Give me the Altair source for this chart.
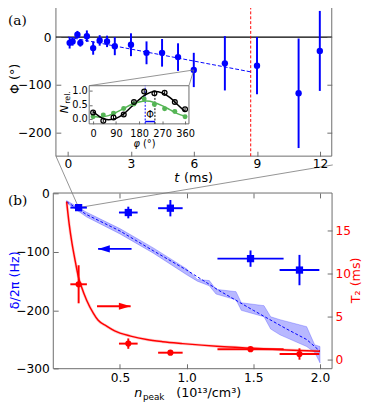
import altair as alt
import pandas as pd

# ---------------- data: panel (a) ----------------
t_ms = [0.08, 0.22, 0.45, 0.59, 0.90, 1.20, 1.51, 1.86, 2.23, 3.00, 3.74, 4.48, 5.24, 5.99, 7.47, 9.00, 10.98, 11.99]
phi_deg = [-12, -9, 5, -12, 2, -23, -7, -9, -19, -16, -33, -33, -42, -69, -55, -60, -118, -29]
phi_err = [12, 9, 8, 8, 12, 14, 11, 12, 19, 24, 24, 29, 29, 36, 57, 60, 115, 84]
fit_t = [0.0, 8.7]
fit_phi = [0.0, -73.0]
t_cut = 8.7
a_xticks = [0, 3, 6, 9, 12]
a_yticks = [-200, -100, 0]

# ---------------- data: inset ----------------
phi_in = [0, 40, 80, 120, 160, 200, 240, 280, 320, 360]
n_black = [0.23, -0.06, 0.05, 0.16, 0.60, 0.97, 0.91, 0.92, 0.60, 0.34]
n_black_err = [0.06, 0.06, 0.06, 0.06, 0.06, 0.06, 0.06, 0.06, 0.06, 0.06]
n_green = [0.08, 0.14, 0.20, 0.37, 0.53, 0.70, 0.51, 0.36, 0.26, 0.08]
phi_curve = [0, 30, 60, 90, 120, 150, 180, 210, 240, 270, 300, 330, 360]
black_fit = [0.26, 0.06, -0.03, 0.02, 0.18, 0.43, 0.68, 0.88, 0.97, 0.92, 0.76, 0.51, 0.26]
green_fit = [0.10, 0.07, 0.12, 0.23, 0.37, 0.51, 0.60, 0.63, 0.58, 0.47, 0.33, 0.19, 0.10]
phi_mark_green = 204
phi_mark_black = 242
i_xticks = [0, 90, 180, 270, 360]
i_yticks = [0.0, 0.5, 1.0]

# ---------------- data: panel (b) ----------------
n_peak = [0.19, 0.5625, 0.878, 1.479, 1.846]
n_err = [0.062, 0.07, 0.092, 0.248, 0.149]
delta_hz = [-24, -32.4, -25, -111.4, -131]
delta_err = [4, 10, 14, 14, 26]
t2_ms = [8.74, 1.88, 0.83, 1.24, 0.68]
t2_err = [2.2, 0.6, 0.15, 0.2, 0.66]

n_line = [0.10, 0.25, 0.50, 0.75, 1.00, 1.25, 1.50, 1.75, 1.90, 2.00]
d_line = [-14, -36, -64, -98, -131, -167, -200, -232, -250, -270]
n_band = [0.10, 0.25, 0.50, 0.75, 1.00, 1.08, 1.17, 1.22, 1.37, 1.41, 1.58, 1.63, 1.70, 1.90, 1.96, 2.00]
band_hi = [-12, -32, -60, -93, -129, -147, -149, -164, -168, -187, -192, -211, -216, -228, -259, -262]
band_lo = [-16, -40, -69, -102, -139, -150, -158, -172, -182, -200, -211, -232, -242, -262, -272, -290]
n_t2fit = [0.10, 0.12, 0.14, 0.16, 0.188, 0.21, 0.25, 0.30, 0.335, 0.40, 0.46, 0.58, 0.70, 0.82, 0.97, 1.25, 1.50, 1.75, 2.00]
t2_fit = [18.3, 15.6, 13.5, 11.8, 9.6, 8.5, 6.9, 5.4, 4.6, 3.9, 3.35, 2.75, 2.35, 2.1, 1.88, 1.55, 1.35, 1.15, 1.0]
b_xticks = [0.5, 1.0, 1.5, 2.0]
b_yticks = [-300, -200, -100, 0]
b_t2ticks = [0, 5, 10, 15]

# ---------------- layout (chart pixel coordinates) ----------------
W, H = 366, 399
FONT = "DejaVu Sans"
FRAME = "#6a6a6a"
BLUE = "#0000ff"
RED = "#ff0000"
GREEN = "#55b555"
LFS = 12.5

def P(v):  # page pixel -> chart pixel
    return v - 8

xa_dom = [-0.5728, 12.559]; xa_rng = [P(57), P(339)]
ya_dom = [-250.0, 68.4];    ya_rng = [P(155), P(0)]
xi_dom = [-15.3, 375.3];    xi_rng = [P(91), P(193)]
yi_dom = [-0.172, 1.172];   yi_rng = [P(122), P(83)]
xb_dom = [0.0, 2.0904];     xb_rng = [P(54.3), P(339.3)]
yb_dom = [-300.0, 1.0];     yb_rng = [P(372.3), P(192.7)]
yt_dom = [-1.02, 19.29];    yt_rng = [P(372.3), P(192.7)]

def sc(dom, rng):
    return alt.Scale(domain=dom, range=rng, zero=False, nice=False)

SXA, SYA = sc(xa_dom, xa_rng), sc(ya_dom, ya_rng)
SXI, SYI = sc(xi_dom, xi_rng), sc(yi_dom, yi_rng)
SXB, SYB, SYT = sc(xb_dom, xb_rng), sc(yb_dom, yb_rng), sc(yt_dom, yt_rng)

def X(f, s, axis=None):
    return alt.X(f, type="quantitative", scale=s, axis=axis)

def Y(f, s, axis=None):
    return alt.Y(f, type="quantitative", scale=s, axis=axis)

def ax_lab(orient, pos, values, fmt, pad, size=LFS, color="black"):
    off = {"bottom": pos - H, "top": -pos, "left": -pos, "right": pos - W}[orient]
    return alt.Axis(orient=orient, offset=off, values=values, format=fmt, tickSize=0,
                    domain=False, grid=False, labelPadding=pad, labelFont=FONT,
                    labelFontSize=size, labelColor=color, title=None,
                    labelFlush=False, labelOverlap=False, zindex=2)

def ax_tick(orient, pos, values, L=5):
    off = {"bottom": (pos - L) - H, "top": -(pos + L), "left": -(pos + L),
           "right": (pos - L) - W}[orient]
    return alt.Axis(orient=orient, offset=off, values=values, tickSize=L, labels=False,
                    domain=False, grid=False, title=None, tickColor=FRAME, tickWidth=1,
                    zindex=2)

def txt(s, x, y, size=13, color="black", angle=0, align="center", baseline="middle",
        style="normal", font=FONT):
    return alt.Chart(pd.DataFrame({"k": [0]})).mark_text(
        text=s, font=font, fontSize=size, fontStyle=style, color=color, angle=angle,
        align=align, baseline=baseline).encode(x=alt.value(P(x)), y=alt.value(P(y)))

def frame(xd, yd, sx, sy, fill=None):
    d = pd.DataFrame({"x0": [xd[0]], "x1": [xd[1]], "y0": [yd[0]], "y1": [yd[1]]})
    if fill:
        m = alt.Chart(d).mark_rect(fill=fill, stroke=FRAME, strokeWidth=1)
    else:
        m = alt.Chart(d).mark_rect(fill="white", fillOpacity=0, stroke=FRAME, strokeWidth=1)
    return m.encode(x=X("x0", sx), x2="x1", y=Y("y0", sy), y2="y1")

layers = []

# ================= panel (a) =================
da = pd.DataFrame({"t": t_ms, "phi": phi_deg, "e": phi_err})
da["lo"] = da["phi"] - da["e"]
da["hi"] = da["phi"] + da["e"]

layers.append(frame(xa_dom, ya_dom, SXA, SYA))
layers.append(alt.Chart(pd.DataFrame({"x0": [xa_dom[0]], "x1": [xa_dom[1]], "z": [0]}))
              .mark_rule(color="black", strokeWidth=1.3)
              .encode(x=X("x0", SXA), x2="x1", y=Y("z", SYA)))
layers.append(alt.Chart(pd.DataFrame({"t": [t_cut], "y0": [ya_dom[0]], "y1": [ya_dom[1]]}))
              .mark_rule(color=RED, strokeWidth=1, strokeDash=[3, 2])
              .encode(x=X("t", SXA), y=Y("y0", SYA), y2="y1"))
layers.append(alt.Chart(pd.DataFrame({"t": fit_t, "phi": fit_phi}))
              .mark_line(color=BLUE, strokeWidth=1, strokeDash=[4, 2])
              .encode(x=X("t", SXA), y=Y("phi", SYA, ax_tick("right", P(339), a_yticks))))
layers.append(alt.Chart(da).mark_rule(color=BLUE, strokeWidth=2)
              .encode(x=X("t", SXA, ax_lab("bottom", P(155), a_xticks, "d", 2)),
                      y=Y("lo", SYA, ax_lab("left", P(57), a_yticks, "d", 5)), y2="hi"))
layers.append(alt.Chart(da).mark_point(filled=True, shape="circle", size=42, color=BLUE, opacity=1)
              .encode(x=X("t", SXA, ax_tick("bottom", P(155), a_xticks)),
                      y=Y("phi", SYA, ax_tick("left", P(57), a_yticks))))

# inset connector lines (panel (a) coordinates)
conn_a = pd.DataFrame({"seg": [0, 0, 1, 1], "t": [1.01, 5.99, 5.76, 5.99],
                       "phi": [-102, -69, -102, -69]})
layers.append(alt.Chart(conn_a).mark_line(color="#777777", strokeWidth=0.8)
              .encode(x=X("t", SXA), y=Y("phi", SYA), detail="seg:N"))

# ================= inset =================
di = pd.DataFrame({"p": phi_in, "b": n_black, "be": n_black_err, "g": n_green})
di["lo"] = di["b"] - di["be"]
di["hi"] = di["b"] + di["be"]
dcurve = pd.DataFrame({"p": phi_curve, "b": black_fit, "g": green_fit})

layers.append(frame(xi_dom, yi_dom, SXI, SYI, fill="white")
              .encode(x=X("x0", SXI, ax_lab("bottom", P(122), i_xticks, "d", 5, size=10)),
                      y=Y("y0", SYI, ax_lab("left", P(91), i_yticks, ".1f", 2, size=10))))
layers.append(alt.Chart(pd.DataFrame({"p": [phi_mark_green], "y0": [yi_dom[0]], "y1": [yi_dom[1]]}))
              .mark_rule(color=BLUE, strokeWidth=1, strokeDash=[2, 1.5])
              .encode(x=X("p", SXI), y=Y("y0", SYI), y2="y1"))
layers.append(alt.Chart(pd.DataFrame({"p": [phi_mark_black], "y0": [yi_dom[0]], "y1": [0.91]}))
              .mark_rule(color="black", strokeWidth=1, strokeDash=[2, 1.5])
              .encode(x=X("p", SXI), y=Y("y0", SYI), y2="y1"))
layers.append(alt.Chart(pd.DataFrame({"p0": [phi_mark_green], "p1": [phi_mark_black], "y": [-0.09]}))
              .mark_rule(color=BLUE, strokeWidth=1.5)
              .encode(x=X("p0", SXI), x2="p1", y=Y("y", SYI)))
layers.append(alt.Chart(dcurve).mark_line(color=GREEN, strokeWidth=1.5, interpolate="monotone")
              .encode(x=X("p", SXI), y=Y("g", SYI)))
layers.append(alt.Chart(dcurve).mark_line(color="black", strokeWidth=1.5, interpolate="monotone")
              .encode(x=X("p", SXI, ax_tick("bottom", P(122), i_xticks, L=3)),
                      y=Y("b", SYI, ax_tick("left", P(91), i_yticks, L=3))))
layers.append(alt.Chart(di).mark_point(filled=True, shape="circle", size=26, color=GREEN, opacity=1)
              .encode(x=X("p", SXI), y=Y("g", SYI)))
layers.append(alt.Chart(di).mark_rule(color="black", strokeWidth=1)
              .encode(x=X("p", SXI), y=Y("lo", SYI), y2="hi"))
layers.append(alt.Chart(di).mark_point(filled=False, shape="circle", size=24, color="black",
                                      strokeWidth=1.3, opacity=1)
              .encode(x=X("p", SXI), y=Y("b", SYI)))
layers.append(alt.Chart(pd.DataFrame({"p": [(phi_mark_green + phi_mark_black) / 2], "y": [0.15]}))
              .mark_text(text="Φ", font=FONT, fontSize=10, color="black")
              .encode(x=X("p", SXI), y=Y("y", SYI)))

# ================= panel (b) =================
db = pd.DataFrame({"n": n_peak, "ne": n_err, "d": delta_hz, "de": delta_err,
                   "t2": t2_ms, "te": t2_err})
db["nlo"] = db["n"] - db["ne"]
db["nhi"] = db["n"] + db["ne"]
db["dlo"] = db["d"] - db["de"]
db["dhi"] = db["d"] + db["de"]
db["tlo"] = db["t2"] - db["te"]
db["thi"] = db["t2"] + db["te"]
dband = pd.DataFrame({"n": n_band, "hi": band_hi, "lo": band_lo})
dline = pd.DataFrame({"n": n_line, "d": d_line})
dt2 = pd.DataFrame({"n": n_t2fit, "t": t2_fit})

layers.append(frame(xb_dom, yb_dom, SXB, SYB))
layers.append(alt.Chart(dband).mark_area(color=BLUE, fillOpacity=0.28, stroke=BLUE,
                                        strokeOpacity=0.3, strokeWidth=0.8)
              .encode(x=X("n", SXB, ax_lab("bottom", P(372.3), b_xticks, ".1f", 3)),
                      y=Y("hi", SYB, ax_lab("left", P(54.3), b_yticks, "d", 4)), y2="lo"))
layers.append(alt.Chart(dline).mark_line(color=BLUE, strokeWidth=1, strokeDash=[3, 2])
              .encode(x=X("n", SXB, ax_tick("bottom", P(372.3), b_xticks)),
                      y=Y("d", SYB, ax_tick("left", P(54.3), b_yticks))))
layers.append(alt.Chart(dt2).mark_line(color=RED, strokeWidth=3, opacity=0.2, interpolate="monotone")
              .encode(x=X("n", SXB), y=Y("t", SYT)))
layers.append(alt.Chart(dt2).mark_line(color=RED, strokeWidth=1.5, interpolate="monotone")
              .encode(x=X("n", SXB, ax_tick("top", P(192.7), b_xticks)),
                      y=Y("t", SYT, ax_tick("right", P(339.3), b_t2ticks))))

# connector lines from panel (a) to first (b) point
conn_b = pd.DataFrame({"seg": [0, 0, 1, 1], "n": [0.0198, n_peak[0], 2.0956, n_peak[0]],
                       "d": [64.2, delta_hz[0], 49.1, delta_hz[0]]})
layers.append(alt.Chart(conn_b).mark_line(color="#777777", strokeWidth=0.8)
              .encode(x=X("n", SXB), y=Y("d", SYB), detail="seg:N"))

# red T2 points
layers.append(alt.Chart(db).mark_rule(color=RED, strokeWidth=2)
              .encode(x=X("nlo", SXB), x2="nhi", y=Y("t2", SYT)))
layers.append(alt.Chart(db).mark_rule(color=RED, strokeWidth=2)
              .encode(x=X("n", SXB), y=Y("tlo", SYT), y2="thi"))
layers.append(alt.Chart(db).mark_point(filled=True, shape="circle", size=40, color=RED, opacity=1)
              .encode(x=X("n", SXB),
                      y=Y("t2", SYT, ax_lab("right", P(339.3), b_t2ticks, "d", 3, color=RED))))
# blue delta points
layers.append(alt.Chart(db).mark_rule(color=BLUE, strokeWidth=2)
              .encode(x=X("nlo", SXB), x2="nhi", y=Y("d", SYB)))
layers.append(alt.Chart(db).mark_rule(color=BLUE, strokeWidth=2)
              .encode(x=X("n", SXB), y=Y("dlo", SYB), y2="dhi"))
layers.append(alt.Chart(db).mark_point(filled=True, shape="square", size=55, color=BLUE, opacity=1)
              .encode(x=X("n", SXB), y=Y("d", SYB)))

# arrows
arrow_left = "M -1 0 L 1 -0.6 L 1 0.6 Z"
arrow_right = "M 1 0 L -1 -0.6 L -1 0.6 Z"
layers.append(alt.Chart(pd.DataFrame({"n0": [0.336], "n1": [0.587], "d": [-94.7]}))
              .mark_rule(color=BLUE, strokeWidth=2)
              .encode(x=X("n0", SXB), x2="n1", y=Y("d", SYB)))
layers.append(alt.Chart(pd.DataFrame({"n": [0.336], "d": [-94.7]}))
              .mark_point(shape=arrow_left, filled=True, size=144, color=BLUE, opacity=1, xOffset=6)
              .encode(x=X("n", SXB), y=Y("d", SYB)))
layers.append(alt.Chart(pd.DataFrame({"n0": [0.328], "n1": [0.58], "t": [6.2]}))
              .mark_rule(color=RED, strokeWidth=2)
              .encode(x=X("n0", SXB), x2="n1", y=Y("t", SYT)))
layers.append(alt.Chart(pd.DataFrame({"n": [0.58], "t": [6.2]}))
              .mark_point(shape=arrow_right, filled=True, size=144, color=RED, opacity=1, xOffset=-6)
              .encode(x=X("n", SXB), y=Y("t", SYT)))

# ================= text =================
layers += [
    txt("(a)", 8, 10, size=14, align="left", baseline="top", font="DejaVu Serif"),
    txt("(b)", 8, 201, size=14, align="left", font="DejaVu Serif"),
    txt("Φ (°)", 15, 76, angle=270),
    txt("t", 183, 181, align="right", baseline="alphabetic", style="italic"),
    txt("(ms)", 188, 181, align="left", baseline="alphabetic"),
    txt("φ", 143, 146, size=10, align="right", baseline="alphabetic", style="italic"),
    txt("(°)", 146, 146, size=10, align="left", baseline="alphabetic"),
    txt("N", 66, 107, size=11, angle=270, style="italic"),
    txt("rel.", 69, 95, size=8, angle=270),
    txt("δ/2π (Hz)", 15, 282, color=BLUE, angle=270),
    txt("T₂ (ms)", 364, 282, color=RED, angle=270),
    txt("n", 137, 401, align="left", baseline="alphabetic", style="italic"),
    txt("peak", 146, 404, size=9, align="left", baseline="alphabetic"),
    txt("(10¹³/cm³)", 180, 401, align="left", baseline="alphabetic"),
]

chart = (alt.layer(*layers)
         .resolve_scale(x="independent", y="independent")
         .properties(width=W, height=H, autosize=alt.AutoSizeParams(type="none"),
                     padding=0, background="white")
         .configure_view(stroke=None))

chart.save("out.html", embed_options={"renderer": "svg", "actions": False})
